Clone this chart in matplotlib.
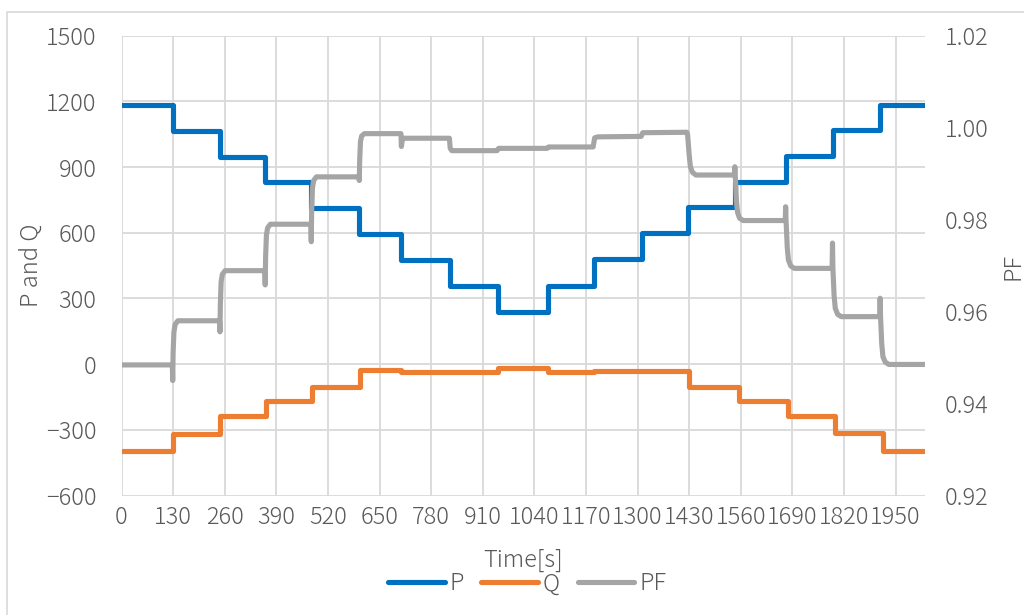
import numpy as np
import matplotlib.pyplot as plt
from matplotlib.patches import Rectangle

plt.rcParams['font.family'] = ['Noto Sans CJK JP', 'DejaVu Sans']
plt.rcParams['font.weight'] = 'light'

# P: change times [s] and level after each change
p_time = [0, 129, 248, 362, 478, 599, 705, 827, 948, 1074, 1190, 1311,
          1426, 1545, 1673, 1791, 1911, 2024]
p_level = [1182, 1065, 944, 830, 711, 595, 477, 358, 238, 358, 479, 598,
           718, 831, 952, 1070, 1182, 1182]

# Q: change times [s] and level after each change
q_time = [0, 129, 249, 363, 481, 600, 705, 948, 1074, 1190, 1429, 1556,
          1679, 1797, 1917, 2024]
q_level = [-396, -318, -239, -170, -104, -27, -36, -18, -34, -30, -104,
           -170, -239, -315, -396, -396]

# PF: points (includes the dips / spikes at each switch)
pf_time = [0, 128, 129, 130, 132, 135, 142,
           247, 248, 249, 251, 254, 261,
           361, 362, 363, 365, 368, 375,
           477, 478, 479, 481, 484, 491,
           598, 599, 600, 602, 605, 612,
           704, 705, 707, 712,
           826, 828, 832,
           946, 950,
           1072, 1076,
           1188, 1192, 1200,
           1309, 1313,
           1424, 1426, 1430, 1433, 1438, 1447,
           1544, 1545, 1546, 1549, 1552, 1557, 1566,
           1672, 1673, 1674, 1677, 1680, 1686, 1695,
           1790, 1791, 1792, 1795, 1798, 1804, 1813,
           1910, 1911, 1912, 1915, 1918, 1924, 1933, 2024]
pf_value = [0.9484, 0.9484, 0.9450, 0.9510, 0.9555, 0.9572, 0.9580,
            0.9580, 0.9556, 0.9615, 0.9665, 0.9681, 0.9689,
            0.9689, 0.9658, 0.9718, 0.9766, 0.9782, 0.9790,
            0.9790, 0.9752, 0.9820, 0.9868, 0.9885, 0.9893,
            0.9893, 0.9885, 0.9930, 0.9970, 0.9982, 0.9987,
            0.9987, 0.9959, 0.9972, 0.9977,
            0.9977, 0.9955, 0.9950,
            0.9950, 0.9955,
            0.9955, 0.9958,
            0.9958, 0.9978, 0.9980,
            0.9981, 0.9989,
            0.9990, 0.9985, 0.9940, 0.9915, 0.9903, 0.9897,
            0.9897, 0.9915, 0.9897, 0.9840, 0.9815, 0.9803, 0.9798,
            0.9798, 0.9828, 0.9798, 0.9740, 0.9712, 0.9699, 0.9694,
            0.9694, 0.9749, 0.9694, 0.9635, 0.9607, 0.9594, 0.9589,
            0.9589, 0.9629, 0.9589, 0.9530, 0.9502, 0.9490, 0.9485, 0.9485]

x_ticks = [0, 130, 260, 390, 520, 650, 780, 910, 1040, 1170, 1300, 1430,
           1560, 1690, 1820, 1950]
left_ticks = [-600, -300, 0, 300, 600, 900, 1200, 1500]
right_ticks = [0.92, 0.94, 0.96, 0.98, 1.00, 1.02]

c_p, c_q, c_pf = '#0070C0', '#ED7D31', '#A5A5A5'
txt = '#595959'
fs = 17

fig = plt.figure(figsize=(10.24, 6.15), dpi=100)
W, H = 1024, 615
ax = fig.add_axes([121.5 / W, 1 - 495.5 / H, (925 - 121.5) / W, (495.5 - 35.7) / H])
ax2 = ax.twinx()

lw = 3.7
line_kw = dict(lw=lw, solid_joinstyle='round', solid_capstyle='round')
lp, = ax.step(p_time, p_level, where='post', color=c_p, label='P', **line_kw)
lq, = ax.step(q_time, q_level, where='post', color=c_q, label='Q', **line_kw)
lpf, = ax2.plot(pf_time, pf_value, color=c_pf, label='PF', **line_kw)

ax.set_xlim(0, 2024)
ax.set_ylim(-600, 1500)
ax2.set_ylim(0.92, 1.02)
ax.set_xticks(x_ticks)
ax.set_yticks(left_ticks)
ax2.set_yticks(right_ticks)
ax2.set_yticklabels([f'{v:.2f}' for v in right_ticks])

ax.grid(True, color='#D9D9D9', lw=1.3)
ax.set_axisbelow(True)
for a in (ax, ax2):
    for s in a.spines.values():
        s.set_visible(False)
ax.tick_params(axis='x', length=0, pad=7, labelsize=fs, labelcolor=txt)
ax.tick_params(axis='y', length=0, pad=18, labelsize=fs, labelcolor=txt)
ax2.tick_params(axis='y', length=0, pad=14, labelsize=fs, labelcolor=txt)

fig.text(31 / W, 1 - 265 / H, 'P and Q', rotation=90, ha='center', va='center',
         fontsize=fs, color=txt)
fig.text(1013 / W, 1 - 266 / H, 'PF', rotation=90, ha='center', va='center',
         fontsize=fs, color=txt)
fig.text(523 / W, 1 - 560 / H, 'Time[s]', ha='center', va='center',
         fontsize=fs, color=txt)

leg = fig.legend(handles=[lp, lq, lpf], loc='center',
                 bbox_to_anchor=(527 / W, 1 - 584 / H), ncol=3, frameon=False,
                 fontsize=fs, handlelength=2.4, handletextpad=0.2,
                 columnspacing=0.75)
for t in leg.get_texts():
    t.set_color(txt)

# outer chart border
fig.patches.append(Rectangle((7 / W, -0.1), 1.2, 1.1 - 12 / H,
                             transform=fig.transFigure, fill=False,
                             ec='#D9D9D9', lw=1.2))

fig.savefig('out.png', dpi=100)
